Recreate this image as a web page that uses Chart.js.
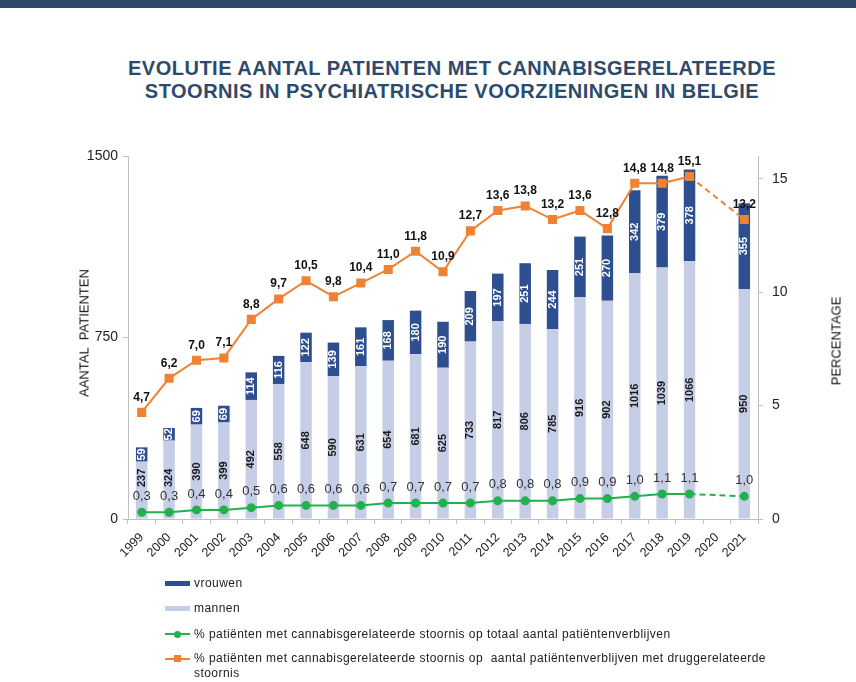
<!DOCTYPE html>
<html>
<head>
<meta charset="utf-8">
<script src="https://cdn.jsdelivr.net/npm/chart.js@4.4.0/dist/chart.umd.min.js"></script>
<style>
  html,body{margin:0;padding:0;background:#fff;}
  body{width:856px;height:682px;position:relative;overflow:hidden;font-family:"Liberation Sans",Arial,sans-serif;}
  #topbar{position:absolute;left:0;top:0;width:856px;height:8px;background:#2D4A6D;}
  #title{position:absolute;left:0;width:904px;top:57px;text-align:center;color:#2E4A6B;font-weight:bold;font-size:20px;line-height:23px;letter-spacing:0.5px;}
  canvas{position:absolute;left:0;top:0;}
  .ytitle{position:absolute;font-size:13px;color:#111;white-space:nowrap;transform:translate(-50%,-50%) rotate(-90deg);}
  #legend{position:absolute;left:165px;top:575px;font-size:12px;letter-spacing:0.45px;color:#222;}
  .li{position:absolute;height:16px;line-height:16px;padding-left:29px;white-space:nowrap;}
  .sw{position:absolute;left:0;top:6px;width:25px;height:5px;}
  .ln{position:absolute;left:0;top:7px;width:25px;height:2px;}
  .mk{position:absolute;}
</style>
</head>
<body>
<div id="topbar"></div>
<div id="title">EVOLUTIE AANTAL PATIENTEN MET CANNABISGERELATEERDE<br>STOORNIS IN PSYCHIATRISCHE VOORZIENINGEN IN BELGIE</div>
<canvas id="c" width="856" height="682"></canvas>
<div class="ytitle" style="left:84px;top:333px;">AANTAL&nbsp; PATIENTEN</div>
<div class="ytitle" style="left:836px;top:341px;">PERCENTAGE</div>
<div id="legend">
  <div class="li" style="top:0;"><span class="sw" style="background:#2E4F8F"></span>vrouwen</div>
  <div class="li" style="top:25px;"><span class="sw" style="background:#C5CEE6"></span>mannen</div>
  <div class="li" style="top:51px;"><span class="ln" style="background:#22B14C"></span><span class="mk" style="left:9px;top:4.5px;width:7px;height:7px;border-radius:50%;background:#22B14C"></span>% patiënten met cannabisgerelateerde stoornis op totaal aantal patiëntenverblijven</div>
  <div class="li" style="top:76px;line-height:15px;"><span class="ln" style="background:#F08234"></span><span class="mk" style="left:9px;top:4px;width:7px;height:7px;background:#F08234"></span>% patiënten met cannabisgerelateerde stoornis op&nbsp; aantal patiëntenverblijven met druggerelateerde<br>stoornis</div>
</div>
<script>
const years = ['1999','2000','2001','2002','2003','2004','2005','2006','2007','2008','2009','2010','2011','2012','2013','2014','2015','2016','2017','2018','2019','2020','2021'];
const mannen = [237,324,390,399,492,558,648,590,631,654,681,625,733,817,806,785,916,902,1016,1039,1066,null,950];
const vrouwen = [59,52,69,69,114,116,122,139,161,168,180,190,209,197,251,244,251,270,342,379,378,null,355];
const pctDrug = [4.7,6.2,7.0,7.1,8.8,9.7,10.5,9.8,10.4,11.0,11.8,10.9,12.7,13.6,13.8,13.2,13.6,12.8,14.8,14.8,15.1,null,13.2];
const pctTotaal = [0.3,0.3,0.4,0.4,0.5,0.6,0.6,0.6,0.6,0.7,0.7,0.7,0.7,0.8,0.8,0.8,0.9,0.9,1.0,1.1,1.1,null,1.0];
const leftTicks = [0,750,1500];
const rightTicks = [0,5,10,15];

const fmt = v => v.toFixed(1).replace('.', ',');
const gapDash = ctx => {
  const d = ctx.chart.data.datasets[ctx.datasetIndex].data;
  const gap = (ctx.p0 && ctx.p0.skip) || (ctx.p1 && ctx.p1.skip) || d[ctx.p0DataIndex] == null || d[ctx.p1DataIndex] == null || (ctx.p1DataIndex - ctx.p0DataIndex > 1);
  return gap ? [6, 4] : undefined;
};

const labelPlugin = {
  id: 'labels',
  afterDatasetsDraw(chart) {
    const ctx = chart.ctx;
    ctx.save();
    [[0,'#1a1a1a'],[1,'#ffffff']].forEach(([di,col]) => {
      const meta = chart.getDatasetMeta(di);
      const data = chart.data.datasets[di].data;
      meta.data.forEach((el,i) => {
        if (data[i] == null) return;
        ctx.font = 'bold 11px "Liberation Sans", Arial, sans-serif';
        const half = ctx.measureText(String(data[i])).width / 2;
        let cy = (el.y + el.base) / 2;
        if (di === 0) cy = Math.min(cy, 487 - half);
        ctx.save();
        ctx.translate(el.x, cy);
        ctx.rotate(-Math.PI/2);
        ctx.fillStyle = col;
        ctx.textAlign = 'center';
        ctx.textBaseline = 'middle';
        ctx.fillText(String(data[i]), 0, 0);
        ctx.restore();
      });
    });
    let meta = chart.getDatasetMeta(2);
    meta.data.forEach((el,i) => {
      const v = pctDrug[i]; if (v == null) return;
      ctx.font = 'bold 12px "Liberation Sans", Arial, sans-serif';
      ctx.fillStyle = '#111';
      ctx.textAlign = 'center'; ctx.textBaseline = 'middle';
      ctx.fillText(fmt(v), el.x, el.y - 15);
    });
    meta = chart.getDatasetMeta(3);
    meta.data.forEach((el,i) => {
      const v = pctTotaal[i]; if (v == null) return;
      ctx.font = '13px "Liberation Sans", Arial, sans-serif';
      ctx.fillStyle = '#333';
      ctx.textAlign = 'center'; ctx.textBaseline = 'middle';
      ctx.fillText(fmt(v), el.x, el.y - 16);
    });
    ctx.restore();
  }
};

new Chart(document.getElementById('c'), {
  type: 'bar',
  data: {
    labels: years,
    datasets: [
      { label: 'mannen', data: mannen, backgroundColor: '#C5CEE6', yAxisID: 'y', stack: 's', order: 2, barPercentage: 0.42, categoryPercentage: 1.0 },
      { label: 'vrouwen', data: vrouwen, backgroundColor: '#2E4F8F', yAxisID: 'y', stack: 's', order: 2, barPercentage: 0.42, categoryPercentage: 1.0 },
      { type: 'line', label: 'drug', data: pctDrug, yAxisID: 'y1', borderColor: '#F08234', backgroundColor: '#F08234', borderWidth: 2, pointStyle: 'rect', pointRadius: 5, pointHoverRadius: 5, spanGaps: true, segment: { borderDash: gapDash }, order: 0, tension: 0 },
      { type: 'line', label: 'totaal', data: pctTotaal, yAxisID: 'y1', borderColor: '#22B14C', backgroundColor: '#22B14C', borderWidth: 2, pointStyle: 'circle', pointRadius: 3.5, pointHoverRadius: 3.5, spanGaps: true, segment: { borderDash: gapDash }, order: 1, tension: 0 }
    ]
  },
  options: {
    responsive: false,
    animation: false,
    devicePixelRatio: 1,
    layout: { padding: { top: 156, left: 0, right: 0, bottom: 0 } },
    plugins: { legend: { display: false }, tooltip: { enabled: false }, title: { display: false } },
    scales: {
      x: {
        stacked: true,
        offset: true,
        grid: { offset: true, drawOnChartArea: false, drawTicks: true, tickLength: 5, color: '#BFBFBF' },
        border: { color: '#BFBFBF' },
        ticks: { minRotation: 45, maxRotation: 45, autoSkip: false, color: '#222', font: { size: 12.5, family: '"Liberation Sans", Arial, sans-serif' }, padding: 6 },
        afterFit(s) { s.height = 163; }
      },
      y: {
        stacked: true,
        position: 'left',
        min: 0, max: 1500,
        afterBuildTicks(s) { s.ticks = leftTicks.map(v => ({ value: v })); },
        grid: { drawOnChartArea: false, drawTicks: true, tickLength: 5, color: '#BFBFBF' },
        border: { color: '#BFBFBF' },
        ticks: { color: '#222', font: { size: 14, family: '"Liberation Sans", Arial, sans-serif' }, padding: 5, callback: v => String(v) },
        afterFit(s) { s.width = 128; }
      },
      y1: {
        position: 'right',
        min: 0, max: 16,
        afterBuildTicks(s) { s.ticks = rightTicks.map(v => ({ value: v })); },
        grid: { drawOnChartArea: false, drawTicks: true, tickLength: 5, color: '#BFBFBF' },
        border: { color: '#BFBFBF' },
        ticks: { color: '#222', font: { size: 14, family: '"Liberation Sans", Arial, sans-serif' }, padding: 9, callback: v => String(v) },
        afterFit(s) { s.width = 98; }
      }
    }
  },
  plugins: [labelPlugin]
});
</script>
</body>
</html>
